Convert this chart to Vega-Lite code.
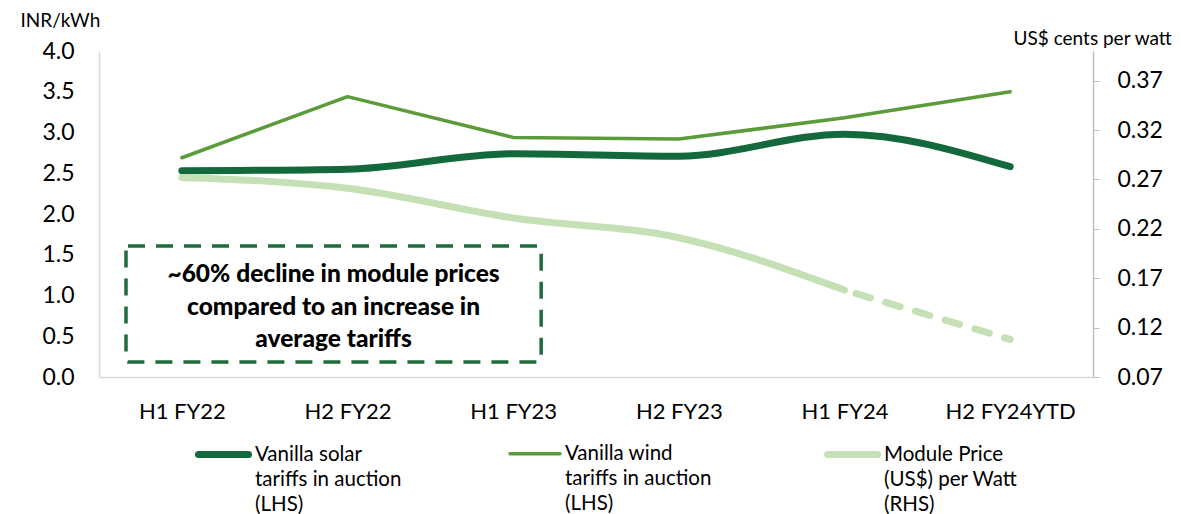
{
  "$schema": "https://vega.github.io/schema/vega-lite/v6.json",
  "width": 994,
  "height": 326,
  "autosize": {"type": "none"},
  "padding": {"left": 99, "top": 51, "right": 88, "bottom": 137},
  "config": {
    "view": {"stroke": null},
    "font": "Lato",
    "axis": {"grid": false, "labelColor": "#000000", "titleColor": "#000000", "labelFont": "Lato", "titleFont": "Lato", "titleFontWeight": "normal"},
    "legend": {
      "orient": "none",
      "legendX": 96,
      "legendY": 375,
      "direction": "horizontal",
      "title": null,
      "labelFont": "Lato",
      "labelFontSize": 20.5,
      "labelColor": "#000000",
      "labelLimit": 400,
      "symbolType": "stroke",
      "symbolSize": 2500,
      "labelOffset": 3,
      "columnPadding": 101
    }
  },
  "data": {
    "values": [
      {"period": "H1 FY22", "series": "Vanilla solar|tariffs in auction|(LHS)", "value": 2.53},
      {"period": "H2 FY22", "series": "Vanilla solar|tariffs in auction|(LHS)", "value": 2.55},
      {"period": "H1 FY23", "series": "Vanilla solar|tariffs in auction|(LHS)", "value": 2.74},
      {"period": "H2 FY23", "series": "Vanilla solar|tariffs in auction|(LHS)", "value": 2.71},
      {"period": "H1 FY24", "series": "Vanilla solar|tariffs in auction|(LHS)", "value": 2.98},
      {"period": "H2 FY24YTD", "series": "Vanilla solar|tariffs in auction|(LHS)", "value": 2.58},
      {"period": "H1 FY22", "series": "Vanilla wind|tariffs in auction|(LHS)", "value": 2.69},
      {"period": "H2 FY22", "series": "Vanilla wind|tariffs in auction|(LHS)", "value": 3.44},
      {"period": "H1 FY23", "series": "Vanilla wind|tariffs in auction|(LHS)", "value": 2.94},
      {"period": "H2 FY23", "series": "Vanilla wind|tariffs in auction|(LHS)", "value": 2.92},
      {"period": "H1 FY24", "series": "Vanilla wind|tariffs in auction|(LHS)", "value": 3.18},
      {"period": "H2 FY24YTD", "series": "Vanilla wind|tariffs in auction|(LHS)", "value": 3.50},
      {"period": "H1 FY22", "series": "Module Price|(US$) per Watt|(RHS)", "value": 0.272},
      {"period": "H2 FY22", "series": "Module Price|(US$) per Watt|(RHS)", "value": 0.261},
      {"period": "H1 FY23", "series": "Module Price|(US$) per Watt|(RHS)", "value": 0.231},
      {"period": "H2 FY23", "series": "Module Price|(US$) per Watt|(RHS)", "value": 0.211},
      {"period": "H1 FY24", "series": "Module Price|(US$) per Watt|(RHS)", "value": 0.158},
      {"period": "H2 FY24YTD", "series": "Module Price|(US$) per Watt|(RHS)", "value": 0.108}
    ]
  },
  "layer": [
    {
      "encoding": {
        "x": {
          "field": "period", "type": "ordinal",
          "scale": {"type": "point", "padding": 0.5, "domain": ["H1 FY22", "H2 FY22", "H1 FY23", "H2 FY23", "H1 FY24", "H2 FY24YTD"]},
          "sort": null,
          "axis": {"title": null, "labelAngle": 0, "labelFontSize": 22, "labelPadding": 24, "ticks": false, "domainColor": "#d9d9d9", "domainWidth": 1.5}
        },
        "y": {
          "field": "value", "type": "quantitative",
          "scale": {"domain": [0, 4], "nice": false},
          "axis": {"title": "INR/kWh", "titleAngle": 0, "titleAlign": "left", "titleBaseline": "middle", "titleX": -79, "titleY": -31, "titleFontSize": 19,
                   "values": [0, 0.5, 1, 1.5, 2, 2.5, 3, 3.5, 4], "format": ".1f", "labelFontSize": 23, "labelPadding": 25, "ticks": false, "domainColor": "#d9d9d9", "domainWidth": 1.5}
        },
        "color": {
          "field": "series", "type": "nominal",
          "scale": {"domain": ["Vanilla solar|tariffs in auction|(LHS)", "Vanilla wind|tariffs in auction|(LHS)", "Module Price|(US$) per Watt|(RHS)"], "range": ["#13693b", "#5b9b3a", "#c5e0b4"]},
          "legend": {"labelExpr": "split(datum.label, '|')", "labelBaseline": "middle", "encode": {"symbols": {"update": {"strokeCap": {"value": "round"}}}, "labels": {"update": {"lineHeight": {"value": 25}}}}}
        },
        "strokeWidth": {
          "field": "series", "type": "nominal",
          "scale": {"type": "ordinal", "domain": ["Vanilla solar|tariffs in auction|(LHS)", "Vanilla wind|tariffs in auction|(LHS)", "Module Price|(US$) per Watt|(RHS)"], "range": [7, 3.5, 7]},
          "legend": {"labelExpr": "split(datum.label, '|')", "labelBaseline": "middle", "encode": {"symbols": {"update": {"strokeCap": {"value": "round"}}}, "labels": {"update": {"lineHeight": {"value": 25}}}}}
        }
      },
      "layer": [
        {
          "transform": [{"filter": "datum.series == 'Vanilla solar|tariffs in auction|(LHS)'"}],
          "mark": {"type": "line", "interpolate": "monotone", "strokeCap": "round"}
        },
        {
          "transform": [{"filter": "datum.series == 'Vanilla wind|tariffs in auction|(LHS)'"}],
          "mark": {"type": "line", "interpolate": "linear", "strokeCap": "round", "strokeJoin": "round"}
        }
      ]
    },
    {
      "layer": [
        {
          "transform": [{"filter": "datum.series == 'Module Price|(US$) per Watt|(RHS)' && datum.period != 'H2 FY24YTD'"}],
          "mark": {"type": "line", "interpolate": "monotone", "strokeCap": "round"},
          "encoding": {
            "color": {
              "field": "series", "type": "nominal",
              "scale": {"domain": ["Vanilla solar|tariffs in auction|(LHS)", "Vanilla wind|tariffs in auction|(LHS)", "Module Price|(US$) per Watt|(RHS)"], "range": ["#13693b", "#5b9b3a", "#c5e0b4"]},
              "legend": {"labelExpr": "split(datum.label, '|')", "labelBaseline": "middle", "encode": {"symbols": {"update": {"strokeCap": {"value": "round"}}}, "labels": {"update": {"lineHeight": {"value": 25}}}}}
            },
            "strokeWidth": {
              "field": "series", "type": "nominal",
              "scale": {"type": "ordinal", "domain": ["Vanilla solar|tariffs in auction|(LHS)", "Vanilla wind|tariffs in auction|(LHS)", "Module Price|(US$) per Watt|(RHS)"], "range": [7, 3.5, 7]},
              "legend": {"labelExpr": "split(datum.label, '|')", "labelBaseline": "middle", "encode": {"symbols": {"update": {"strokeCap": {"value": "round"}}}, "labels": {"update": {"lineHeight": {"value": 25}}}}}
            }
          }
        },
        {
          "transform": [{"filter": "datum.series == 'Module Price|(US$) per Watt|(RHS)' && (datum.period == 'H1 FY24' || datum.period == 'H2 FY24YTD')"}],
          "mark": {"type": "line", "strokeCap": "round", "color": "#c5e0b4", "strokeWidth": 7, "strokeDash": [15, 16], "strokeDashOffset": -12},
          "encoding": {}
        }
      ],
      "encoding": {
        "x": {
          "field": "period", "type": "ordinal",
          "scale": {"type": "point", "padding": 0.5, "domain": ["H1 FY22", "H2 FY22", "H1 FY23", "H2 FY23", "H1 FY24", "H2 FY24YTD"]},
          "sort": null, "axis": null
        },
        "y": {
          "field": "value", "type": "quantitative",
          "scale": {"domain": [0.07, 0.40], "nice": false, "zero": false},
          "axis": {"orient": "right", "title": "US$ cents per watt", "titleAngle": 0, "titleAlign": "left", "titleBaseline": "middle", "titleX": -80, "titleY": -13, "titleFontSize": 19,
                   "values": [0.07, 0.12, 0.17, 0.22, 0.27, 0.32, 0.37], "format": ".2f", "labelFontSize": 23, "labelPadding": 18, "ticks": true, "tickSize": 6, "tickColor": "#bfbfbf", "domainColor": "#bfbfbf", "domainWidth": 1.5}
        }
      }
    },
    {
      "data": {"values": [{"note": "~60% decline in module prices\ncompared to an increase in\naverage tariffs"}]},
      "layer": [
        {
          "mark": {"type": "rect", "fill": null, "stroke": "#1e6b3c", "strokeWidth": 3.5, "strokeDash": [17, 11], "cornerRadius": 2},
          "encoding": {
            "x": {"datum": 0.163, "type": "quantitative", "scale": {"domain": [0, 6], "nice": false, "zero": false}, "axis": null},
            "x2": {"datum": 2.669},
            "y": {"datum": 1.607, "type": "quantitative", "scale": {"domain": [0, 4], "nice": false}, "axis": null},
            "y2": {"datum": 0.184}
          }
        },
        {
          "mark": {"type": "text", "lineBreak": "\n", "lineHeight": 32.5, "fontSize": 24.5, "fontWeight": 900, "font": "Lato", "color": "#000000", "align": "center", "baseline": "middle"},
          "encoding": {
            "x": {"datum": 1.416, "type": "quantitative", "scale": {"domain": [0, 6], "nice": false, "zero": false}, "axis": null},
            "y": {"datum": 1.25, "type": "quantitative", "scale": {"domain": [0, 4], "nice": false}, "axis": null},
            "text": {"field": "note"}
          }
        }
      ]
    }
  ],
  "resolve": {"scale": {"y": "independent", "x": "independent"}}
}
